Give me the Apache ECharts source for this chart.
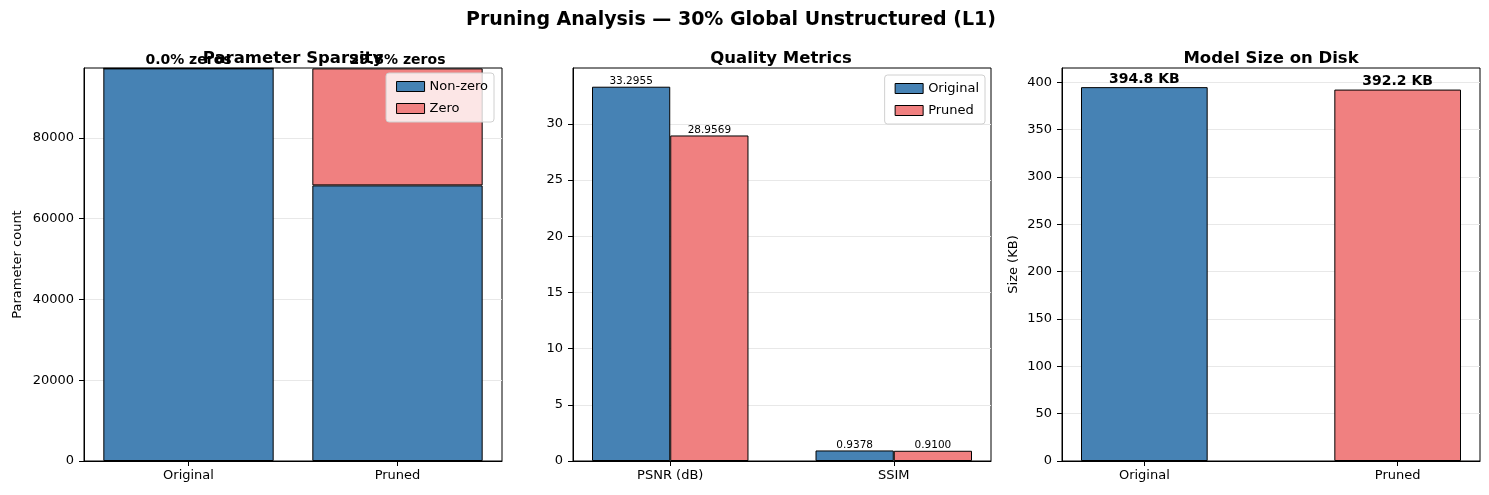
<!DOCTYPE html>
<html>
<head>
<meta charset="utf-8">
<script src="https://cdn.jsdelivr.net/npm/echarts@6/dist/echarts.min.js"></script>
<style>
html,body{margin:0;padding:0;background:#fff;}
#chart{width:1489px;height:495px;}
</style>
</head>
<body>
<div id="chart"></div>
<script>
// ---- Data ----
const sparsityCats = ['Original', 'Pruned'];
const nonZeroCounts = [97200, 68234];
const zeroCounts = [0, 28966];
const sparsityTicks = [0, 20000, 40000, 60000, 80000];

const metricCats = ['PSNR (dB)', 'SSIM'];
const originalMetrics = [33.2955, 0.9378];
const prunedMetrics = [28.9569, 0.9100];
const metricTicks = [0, 5, 10, 15, 20, 25, 30];

const sizeCats = ['Original', 'Pruned'];
const sizesKB = [394.8, 392.2];
const sizeTicks = [0, 50, 100, 150, 200, 250, 300, 350, 400];

// ---- Style ----
const BLUE = '#4682B4';
const RED = '#F08080';
const FONT = 'DejaVu Sans';
const GW = 418, GH = 393, GT = 68;
const lefts = [84, 573, 1062];
const xr = [[-0.5, 1.5], [-0.435, 1.435], [-0.325, 1.325]];
const bw = (frac, k) => frac * GW / (xr[k][1] - xr[k][0]);

const chart = echarts.init(document.getElementById('chart'), null, {renderer: 'canvas'});

const axLine = {show: true, onZero: false, lineStyle: {color: '#000', width: 1}};

function xValueAxis(k, cats) {
  return {
    type: 'value', gridIndex: k, min: xr[k][0], max: xr[k][1],
    axisLine: axLine,
    axisTick: {show: true, length: 5, lineStyle: {color: '#000'}, customValues: [0, 1]},
    axisLabel: {customValues: [0, 1], color: '#000', fontSize: 13, fontFamily: FONT, margin: 8,
      formatter: v => cats[Math.round(v)]},
    splitLine: {show: false}
  };
}
function yAxisFor(k, max, ticks, name, gap) {
  return {
    type: 'value', gridIndex: k, min: 0, max: max,
    name: name, nameLocation: 'middle', nameGap: gap,
    nameTextStyle: {color: '#000', fontSize: 13, fontFamily: FONT},
    axisLine: axLine,
    axisTick: {show: true, length: 5, lineStyle: {color: '#000'}, customValues: ticks},
    axisLabel: {customValues: ticks, color: '#000', fontSize: 13, fontFamily: FONT, margin: 10,
      formatter: v => String(v)},
    splitLine: {show: true, lineStyle: {color: '#e8e8e8', width: 1}}
  };
}

const subTitle = (text, cx) => ({
  text: text, left: cx, top: 45, textAlign: 'center',
  textStyle: {fontSize: 16.5, fontWeight: 'bold', color: '#000', fontFamily: FONT}
});

const legendBase = {
  orient: 'vertical', itemWidth: 28, itemHeight: 10, itemGap: 9,
  backgroundColor: 'rgba(255,255,255,0.8)', borderColor: '#d0d0d0', borderWidth: 1, borderRadius: 3,
  padding: [7, 6, 7, 10], icon: 'rect',
  textStyle: {fontSize: 13, color: '#000', fontFamily: FONT},
  itemStyle: {borderColor: '#000', borderWidth: 1}
};

const option = {
  animation: false,
  backgroundColor: '#fff',
  title: [
    {text: 'Pruning Analysis — 30% Global Unstructured (L1)', left: 726, top: 6, textAlign: 'center',
      textStyle: {fontSize: 19, fontWeight: 'bold', color: '#000', fontFamily: FONT}},
    subTitle('Parameter Sparsity', 288),
    subTitle('Quality Metrics', 776),
    subTitle('Model Size on Disk', 1266)
  ],
  legend: [
    Object.assign({}, legendBase, {data: ['Non-zero', 'Zero'], right: 995, top: 73}),
    Object.assign({}, legendBase, {data: ['Original', 'Pruned'], right: 504, top: 75})
  ],
  grid: lefts.map(l => ({left: l, top: GT, width: GW, height: GH, show: true,
    borderColor: '#000', borderWidth: 1, backgroundColor: 'transparent'})),
  xAxis: [
    {type: 'category', gridIndex: 0, data: sparsityCats,
      axisLine: axLine,
      axisTick: {show: true, alignWithLabel: true, length: 5, lineStyle: {color: '#000'}},
      axisLabel: {color: '#000', fontSize: 13, fontFamily: FONT, margin: 8},
      splitLine: {show: false}},
    xValueAxis(1, metricCats),
    xValueAxis(2, sizeCats)
  ],
  yAxis: [
    yAxisFor(0, 97300, sparsityTicks, 'Parameter count', 60),
    yAxisFor(1, 34.96, metricTicks, '', 0),
    yAxisFor(2, 415, sizeTicks, 'Size (KB)', 42)
  ],
  series: [
    {name: 'Non-zero', type: 'bar', xAxisIndex: 0, yAxisIndex: 0, stack: 'sp',
      barWidth: bw(0.815, 0),
      data: nonZeroCounts,
      itemStyle: {color: BLUE, borderColor: '#000', borderWidth: 1}},
    {name: 'Zero', type: 'bar', xAxisIndex: 0, yAxisIndex: 0, stack: 'sp',
      barWidth: bw(0.815, 0),
      data: zeroCounts,
      itemStyle: {color: RED, borderColor: '#000', borderWidth: 1},
      label: {show: true, position: 'top', distance: 1, color: '#000', fontWeight: 'bold', fontSize: 14,
        fontFamily: FONT,
        formatter: p => (zeroCounts[p.dataIndex] / (zeroCounts[p.dataIndex] + nonZeroCounts[p.dataIndex]) * 100).toFixed(1) + '% zeros'}},
    {name: 'Original', type: 'bar', xAxisIndex: 1, yAxisIndex: 1,
      barWidth: bw(0.35, 1), barGap: '-100%',
      data: originalMetrics.map((v, i) => [i - 0.175, v]),
      itemStyle: {color: BLUE, borderColor: '#000', borderWidth: 1},
      label: {show: true, position: 'top', distance: 0, color: '#000', fontSize: 10.5, fontFamily: FONT,
        formatter: p => originalMetrics[p.dataIndex].toFixed(4)}},
    {name: 'Pruned', type: 'bar', xAxisIndex: 1, yAxisIndex: 1,
      barWidth: bw(0.35, 1), barGap: '-100%',
      data: prunedMetrics.map((v, i) => [i + 0.175, v]),
      itemStyle: {color: RED, borderColor: '#000', borderWidth: 1},
      label: {show: true, position: 'top', distance: 0, color: '#000', fontSize: 10.5, fontFamily: FONT,
        formatter: p => prunedMetrics[p.dataIndex].toFixed(4)}},
    {name: 'Size', type: 'bar', xAxisIndex: 2, yAxisIndex: 2,
      barWidth: bw(0.5, 2),
      data: sizesKB.map((v, i) => [i, v]),
      itemStyle: {color: p => [BLUE, RED][p.dataIndex], borderColor: '#000', borderWidth: 1},
      label: {show: true, position: 'top', distance: 1, color: '#000', fontWeight: 'bold', fontSize: 14,
        fontFamily: FONT,
        formatter: p => sizesKB[p.dataIndex].toFixed(1) + ' KB'}}
  ]
};
chart.setOption(option);
</script>
</body>
</html>
